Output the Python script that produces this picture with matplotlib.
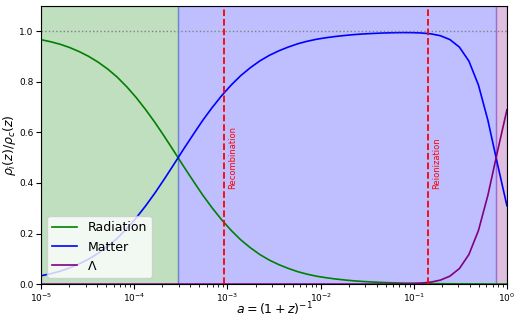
import numpy as np
import matplotlib
matplotlib.use('Agg')
import matplotlib.pyplot as plt

# scale factor samples (50 points, log spaced 1e-5 .. 1)
a = np.logspace(-5, 0, 50)

# density fractions
radiation = [0.967, 0.959, 0.949, 0.936, 0.920, 0.901, 0.878, 0.851, 0.819, 0.781,
	0.738, 0.690, 0.638, 0.582, 0.524, 0.465, 0.408, 0.352, 0.301, 0.254,
	0.212, 0.175, 0.144, 0.117, 0.095, 0.077, 0.062, 0.049, 0.039, 0.031,
	0.025, 0.020, 0.016, 0.0125, 0.0099, 0.0079, 0.0062, 0.0049, 0.0039, 0.0031,
	0.0024, 0.0019, 0.0015, 0.0012, 0.0009, 0.0007, 0.0005, 0.0003, 0.0002, 0.0001]
matter = [0.033, 0.041, 0.051, 0.064, 0.080, 0.099, 0.122, 0.149, 0.181, 0.219,
	0.262, 0.310, 0.362, 0.418, 0.476, 0.535, 0.592, 0.648, 0.699, 0.746,
	0.788, 0.825, 0.856, 0.883, 0.905, 0.923, 0.938, 0.951, 0.961, 0.969,
	0.975, 0.980, 0.984, 0.9875, 0.990, 0.992, 0.9936, 0.9946, 0.9952, 0.9950,
	0.9937, 0.9902, 0.9828, 0.9675, 0.9376, 0.8823, 0.7879, 0.6477, 0.4760, 0.3100]
lam = [0.0]*35 + [0.0001, 0.0002, 0.0005, 0.001, 0.0019,
	0.0039, 0.0078, 0.0157, 0.0314, 0.0615, 0.1171, 0.2116, 0.3520, 0.5238, 0.6899]

# era boundaries
a_eq = 2.95e-4
a_lam = 0.766

# events
event_a = [9.18e-4, 0.1429]
event_names = ['Recombination', 'Reionization']
event_y = [0.50, 0.48]
#----------------------------------------------------------
def f_00():
	fig = plt.figure(figsize=(5.21, 3.21), dpi=100)
	ax = fig.add_axes([0.079, 0.115, 0.894, 0.866])

	ax.axvspan(1e-5, a_eq, color='green', alpha=0.25)
	ax.axvspan(a_eq, a_lam, color='blue', alpha=0.25)
	ax.axvspan(a_lam, 1, color='purple', alpha=0.25)

	ax.plot(a, radiation, color='green', lw=1.2, label='Radiation')
	ax.plot(a, matter, color='blue', lw=1.2, label='Matter')
	ax.plot(a, lam, color='purple', lw=1.2, label=r'$\Lambda$')

	ax.axhline(1.0, color='gray', ls=':', lw=1)

	for xa, name, yy in zip(event_a, event_names, event_y):
		ax.axvline(xa, color='red', ls='--', lw=1.3)
		ax.text(xa*1.1, yy, name, color='red', rotation=90,
			ha='left', va='center', fontsize=6)

	ax.set_xscale('log')
	ax.set_xlim(1e-5, 1)
	ax.set_ylim(0, 1.1)
	ax.set_yticks([0, 0.2, 0.4, 0.6, 0.8, 1.0])
	ax.tick_params(axis='both', which='major', labelsize=6.5, pad=2)

	ax.set_xlabel(r'$a = (1+z)^{-1}$', fontsize=9)
	ax.xaxis.set_label_coords(0.5, -0.058)
	ax.set_ylabel(r'$\rho_i(z)/\rho_c(z)$', fontsize=9, labelpad=1)
	ax.legend(loc='lower left', fontsize=9)

	fig.savefig('out.png', dpi=100)
#----------------------------------------------------------
if __name__=='__main__':
	f_00()
